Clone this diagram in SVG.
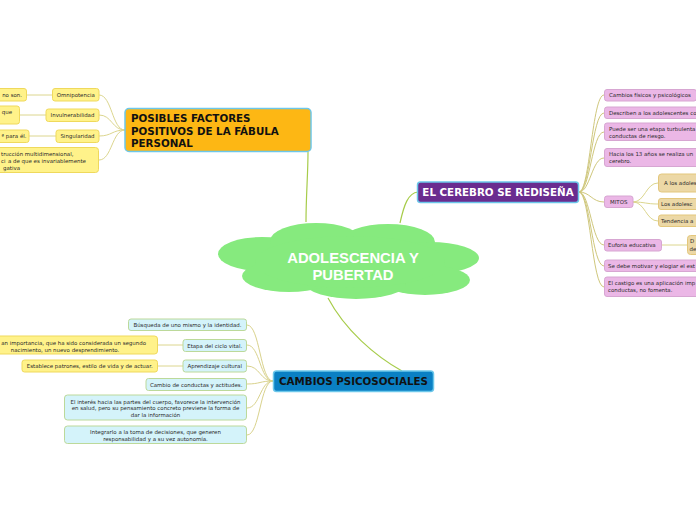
<svg xmlns="http://www.w3.org/2000/svg" width="696" height="520" viewBox="0 0 696 520">
<style>
.s{font-family:"DejaVu Sans",Verdana,sans-serif;font-size:5.45px;fill:#2a2a2a}
.m{text-anchor:middle}
.e{text-anchor:end}
.y{fill:#fff28a;stroke:#efd95c;stroke-width:1}
.p{fill:#ebb7e6;stroke:#d7a6d2;stroke-width:1}
.t{fill:#ecd8a6;stroke:#e3c77c;stroke-width:1}
.b{fill:#d4f3fa;stroke:#bcd99a;stroke-width:1}
.h{font-family:"DejaVu Sans",Verdana,sans-serif;font-weight:bold;font-size:10.3px}
.c{fill:none;stroke-width:1}
.c1{stroke:#a7cc4a;stroke-width:1.2}
.c2{stroke:#dcd68e}
.c3{stroke:#cfc77c}
.c4{stroke:#d9d28c}
</style>
<rect width="696" height="520" fill="#ffffff"/>
<g id="connectors">
<path class="c c1" d="M306,222 C306,195 308,175 308,152"/>
<path class="c c1" d="M400,223 C404,205 408,193 418,192"/>
<path class="c c1" d="M328,298 C345,330 375,356 402,371"/>
<path class="c c2" d="M125,130 C112,130 112,95 99,95"/>
<path class="c c2" d="M125,130 C112,130 112,115 99,115"/>
<path class="c c2" d="M125,130 C112,130 112,136 99,136"/>
<path class="c c2" d="M125,130 C112,130 112,160 99,160"/>
<path class="c c2" d="M52,95 L27,95"/>
<path class="c c2" d="M46,115 L19,115"/>
<path class="c c2" d="M56,136 L29,136"/>
<path class="c c3" d="M579,192 C590,192 592,95 604,95"/>
<path class="c c3" d="M579,192 C590,192 592,113 604,113"/>
<path class="c c3" d="M579,192 C590,192 592,132 604,132"/>
<path class="c c3" d="M579,192 C590,192 592,158 604,158"/>
<path class="c c3" d="M579,192 C590,192 592,202 604,202"/>
<path class="c c3" d="M579,192 C590,192 592,245 604,245"/>
<path class="c c3" d="M579,192 C590,192 592,266 604,266"/>
<path class="c c3" d="M579,192 C590,192 592,287 604,287"/>
<path class="c c2" d="M633,202 C645,202 646,183 658,183"/>
<path class="c c2" d="M633,202 C645,202 646,204 658,204"/>
<path class="c c2" d="M633,202 C645,202 646,221 658,221"/>
<path class="c c2" d="M662,245 L687,245"/>
<path class="c c4" d="M273,381 C260,381 260,325 247,325"/>
<path class="c c4" d="M273,381 C260,381 260,345 247,345"/>
<path class="c c4" d="M273,381 C260,381 260,366 247,366"/>
<path class="c c4" d="M273,381 C260,381 260,384 247,384"/>
<path class="c c4" d="M273,381 C260,381 260,408 247,408"/>
<path class="c c4" d="M273,381 C260,381 260,435 247,435"/>
<path class="c c2" d="M183,345 L157,345"/>
<path class="c c2" d="M183,366 L157,366"/>
</g>
<g id="root">
<g fill="#86ea7e">
<ellipse cx="262" cy="254" rx="44" ry="17"/>
<ellipse cx="316" cy="241" rx="46" ry="18"/>
<ellipse cx="388" cy="242" rx="47" ry="18"/>
<ellipse cx="430" cy="258" rx="49" ry="16"/>
<ellipse cx="425" cy="280" rx="45" ry="15"/>
<ellipse cx="356" cy="284" rx="50" ry="15"/>
<ellipse cx="289" cy="276" rx="47" ry="16"/>
<ellipse cx="350" cy="262" rx="95" ry="26"/>
</g>
<text x="353" y="263" text-anchor="middle" font-family="Liberation Sans,Arial,sans-serif" font-weight="bold" font-size="14.8" fill="#ffffff">ADOLESCENCIA Y</text>
<text x="353" y="280" text-anchor="middle" font-family="Liberation Sans,Arial,sans-serif" font-weight="bold" font-size="14.8" fill="#ffffff">PUBERTAD</text>
</g>
<g id="fabula">
<rect x="125" y="108.5" width="186" height="43" rx="4" fill="#fdb714" stroke="#6cc7ea" stroke-width="1.5"/>
<text class="h" x="131" y="122" fill="#111">POSIBLES FACTORES</text>
<text class="h" x="131" y="134.5" fill="#111">POSITIVOS DE LA FÁBULA</text>
<text class="h" x="131" y="147" fill="#111">PERSONAL</text>
</g>
<g id="omnipotencia">
<rect class="y" x="52.5" y="88.5" width="46.5" height="12.5" rx="2.5"/>
<text class="s m" x="75.7" y="96.8">Omnipotencia</text>
</g>
<g id="omnipotencia-leaf">
<rect class="y" x="-20" y="88.5" width="46.5" height="12.5" rx="2.5"/>
<text class="s e" x="22" y="96.8">no son.</text>
</g>
<g id="invulnerabilidad">
<rect class="y" x="46" y="109" width="53" height="12.5" rx="2.5"/>
<text class="s m" x="72.5" y="117.3">Invulnerabilidad</text>
</g>
<g id="invulnerabilidad-leaf">
<rect class="y" x="-20" y="106" width="39.5" height="18" rx="2.5"/>
<text class="s e" x="12" y="113.5">que</text>
</g>
<g id="singularidad">
<rect class="y" x="56" y="130" width="43" height="12.5" rx="2.5"/>
<text class="s m" x="77.5" y="138.3">Singularidad</text>
</g>
<g id="singularidad-leaf">
<rect class="y" x="-20" y="130" width="49" height="12.5" rx="2.5"/>
<text class="s e" x="26.5" y="138.3">ª para él.</text>
</g>
<g id="fabula-leaf4">
<rect class="y" x="-20" y="147.5" width="118.5" height="25" rx="3"/>
<text class="s" x="1" y="155.5">trucción multidimensional,</text>
<text class="s" x="1" y="162.5">ci</text>
<text class="s" x="8" y="163">a de que es invariablemente</text>
<text class="s" x="3" y="170">gativa</text>
</g>
<g id="cerebro">
<rect x="417.5" y="182" width="161" height="20.5" rx="3" fill="#6a2c8f" stroke="#6cc7ea" stroke-width="1.5"/>
<text class="h" x="498" y="196" text-anchor="middle" fill="#ffffff">EL CEREBRO SE REDISEÑA</text>
</g>
<g id="cambios-fisicos">
<rect class="p" x="604.5" y="89.5" width="92" height="11.5" rx="2.5"/>
<text class="s" x="609" y="97">Cambios físicos y psicológicos</text>
</g>
<g id="describen">
<rect class="p" x="604.5" y="107" width="100" height="11.5" rx="2.5"/>
<text class="s" x="609" y="114.7">Describen a los adolescentes co</text>
</g>
<g id="turbulenta">
<rect class="p" x="604.5" y="123" width="100" height="17.5" rx="2.5"/>
<text class="s" x="609" y="130.5">Puede ser una etapa turbulenta</text>
<text class="s" x="609" y="137.5">conductas de riesgo.</text>
</g>
<g id="trece">
<rect class="p" x="604.5" y="148.5" width="100" height="18" rx="2.5"/>
<text class="s" x="609" y="156">Hacia los 13 años se realiza un</text>
<text class="s" x="609" y="163">cerebro.</text>
</g>
<g id="mitos">
<rect class="p" x="604.5" y="196" width="28.5" height="11.5" rx="2.5"/>
<text class="s m" x="618.7" y="203.7">MITOS</text>
</g>
<g id="mito1">
<rect class="t" x="658.5" y="174" width="50" height="18" rx="3"/>
<text class="s" x="664" y="185">A los adoles</text>
</g>
<g id="mito2">
<rect class="t" x="658.5" y="198.5" width="50" height="11" rx="2.5"/>
<text class="s" x="661" y="205.8">Los adolesc</text>
</g>
<g id="mito3">
<rect class="t" x="658.5" y="215" width="50" height="11.5" rx="2.5"/>
<text class="s" x="661" y="222.8">Tendencia a</text>
</g>
<g id="euforia">
<rect class="p" x="604.5" y="239.5" width="57" height="11.5" rx="2.5"/>
<text class="s" x="608" y="247.2">Euforia educativa</text>
</g>
<g id="euforia-leaf">
<rect class="t" x="687.5" y="235.5" width="20" height="19" rx="3"/>
<text class="s" x="690" y="243">D</text>
<text class="s" x="689.5" y="250.5">de</text>
</g>
<g id="motivar">
<rect class="p" x="604.5" y="260" width="100" height="11.5" rx="2.5"/>
<text class="s" x="608" y="267.7">Se debe motivar y elogiar el est</text>
</g>
<g id="castigo">
<rect class="p" x="604.5" y="277" width="100" height="19.5" rx="2.5"/>
<text class="s" x="608" y="285">El castigo es una aplicación imp</text>
<text class="s" x="608" y="292">conductas, no fomenta.</text>
</g>
<g id="psicosociales">
<rect x="273.5" y="371" width="160" height="20.5" rx="3" fill="#0a80c4" stroke="#6cc7ea" stroke-width="1.5"/>
<text class="h" x="353.5" y="385" text-anchor="middle" fill="#111">CAMBIOS PSICOSOCIALES</text>
</g>
<g id="busqueda">
<rect class="b" x="128.5" y="319" width="118" height="11.5" rx="2.5"/>
<text class="s m" x="187.5" y="326.7">Búsqueda de uno mismo y la identidad.</text>
</g>
<g id="etapa">
<rect class="b" x="183" y="339.5" width="63.5" height="12" rx="2.5"/>
<text class="s m" x="214.7" y="347.5">Etapa del ciclo vital.</text>
</g>
<g id="etapa-leaf">
<rect class="y" x="-20" y="336" width="177.5" height="18" rx="3"/>
<text class="s e" x="146" y="345">an importancia, que ha sido considerada un segundo</text>
<text class="s m" x="65" y="351.5">nacimiento, un nuevo desprendimiento.</text>
</g>
<g id="aprendizaje">
<rect class="b" x="183" y="360" width="63.5" height="12" rx="2.5"/>
<text class="s m" x="214.7" y="368">Aprendizaje cultural</text>
</g>
<g id="aprendizaje-leaf">
<rect class="y" x="22" y="360" width="135.5" height="12" rx="2.5"/>
<text class="s m" x="89.7" y="368">Establece patrones, estilo de vida y de actuar.</text>
</g>
<g id="cambio-conductas">
<rect class="b" x="146" y="378.5" width="100.5" height="12" rx="2.5"/>
<text class="s m" x="196.2" y="386.5">Cambio de conductas y actitudes.</text>
</g>
<g id="interes">
<rect class="b" x="64.5" y="395" width="182" height="25" rx="3"/>
<text class="s m" x="155.5" y="403.5">El interés hacia las partes del cuerpo, favorece la intervención</text>
<text class="s m" x="155.5" y="410.3">en salud, pero su pensamiento concreto previene la forma de</text>
<text class="s m" x="155.5" y="417">dar la información</text>
</g>
<g id="integrarlo">
<rect class="b" x="64.5" y="426" width="182" height="17.5" rx="3"/>
<text class="s m" x="155.5" y="433.5">Integrarlo a la toma de decisiones, que generen</text>
<text class="s m" x="155.5" y="441">responsabilidad y a su vez autonomía.</text>
</g>
</svg>
